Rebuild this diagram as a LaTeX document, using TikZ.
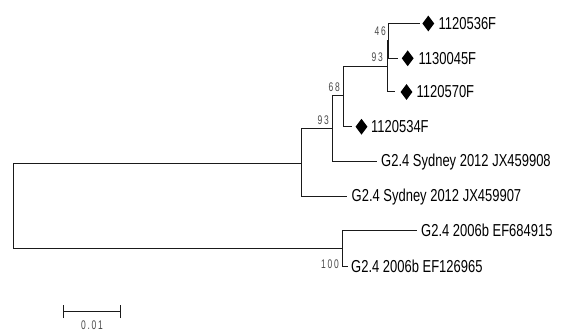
\documentclass[tikz,border=0pt]{standalone}
\usepackage{fontspec}
\setmainfont{Liberation Sans}[FakeStretch=0.75]
\newfontfamily\bsfont{Liberation Sans}[FakeStretch=0.68,LetterSpace=14]
\usetikzlibrary{shapes.geometric}
\definecolor{linec}{HTML}{1A1A1A}
\definecolor{bsc}{HTML}{4A4A4A}
\tikzset{
  branch/.style={draw=linec,line width=1pt},
  leaf/.style={anchor=west,inner sep=0pt,font=\fontsize{17.3}{17.3}\selectfont,text=black},
  boot/.style={anchor=east,inner sep=0pt,font=\bsfont\fontsize{12.5}{12.5}\selectfont,text=bsc},
  dia/.style={diamond,fill=black,draw=none,inner sep=0pt,minimum width=12pt,minimum height=16pt,aspect=0.75}
}
\begin{document}
\begin{tikzpicture}[x=1pt,y=-1pt]
\useasboundingbox (0,0) rectangle (561,334);
% internal nodes
\coordinate (root) at (13.3,206);
\coordinate (n1) at (301.7,163);
\coordinate (n2) at (332.3,128.7);
\coordinate (n3) at (343,96);
\coordinate (n4) at (387,66.5);
\coordinate (n5) at (388,41);
\coordinate (n6) at (342.7,248.3);
% leaf ends
\coordinate (l1) at (420,23.5);
\coordinate (l2) at (398,58.3);
\coordinate (l3) at (395,92);
\coordinate (l4) at (352,126.7);
\coordinate (l5) at (377,161.7);
\coordinate (l6) at (347,196.7);
\coordinate (l7) at (417,230.7);
\coordinate (l8) at (348,266);
% branches
\draw[branch] (root) |- (n1);
\draw[branch] (root) |- (n6);
\draw[branch] (n1) |- (n2);
\draw[branch] (n1) |- (l6);
\draw[branch] (n2) |- (n3);
\draw[branch] (n2) |- (l5);
\draw[branch] (n3) |- (n4);
\draw[branch] (n3) |- (l4);
\draw[branch] (n4) |- (n5);
\draw[branch] (n4) |- (l3);
\draw[branch] (n5) |- (l1);
\draw[branch] (n5) |- (l2);
\draw[branch] (n6) |- (l7);
\draw[branch] (n6) |- (l8);
% diamonds
\node[dia] (d1) at (428.3,23.5) {};
\node[dia] (d2) at (407.7,58.3) {};
\node[dia] (d3) at (406.5,92) {};
\node[dia] (d4) at (361.5,126.7) {};
% leaf labels
\node[leaf] (t1) at (438.5,23.5) {1120536F};
\node[leaf] (t2) at (418.5,58.3) {1130045F};
\node[leaf] (t3) at (416.5,92) {1120570F};
\node[leaf] (t4) at (371,126.7) {1120534F};
\node[leaf] (t5) at (381,161.7) {G2.4 Sydney 2012 JX459908};
\node[leaf] (t6) at (351.5,196.7) {G2.4 Sydney 2012 JX459907};
\node[leaf] (t7) at (421,230.7) {G2.4 2006b EF684915};
\node[leaf] (t8) at (351,266) {G2.4 2006b EF126965};
% bootstrap values
\node[boot] (b1) at (386,31) {46};
\node[boot] (b2) at (383,57) {93};
\node[boot] (b3) at (340,87) {68};
\node[boot] (b4) at (329,120) {93};
\node[boot] (b5) at (339,264) {100};
% scale bar
\coordinate (s1) at (63.3,311.7);
\coordinate (s2) at (120,311.7);
\draw[branch] (s1) -- (s2);
\draw[branch] ([yshift=-6.5pt]s1) -- ([yshift=6.5pt]s1);
\draw[branch] ([yshift=-6.5pt]s2) -- ([yshift=6.5pt]s2);
\node[boot,anchor=center] (sl) at (92,325) {0.01};
\end{tikzpicture}
\end{document}
